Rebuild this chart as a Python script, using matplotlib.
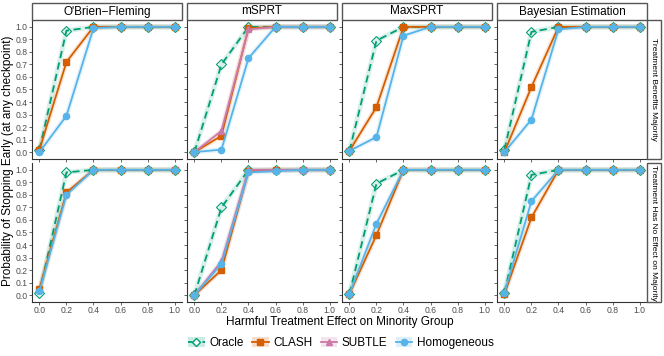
import numpy as np
import matplotlib
matplotlib.use('Agg')
import matplotlib.pyplot as plt
from matplotlib.lines import Line2D
from matplotlib.patches import Rectangle

plt.rcParams['font.family'] = ['Liberation Sans', 'DejaVu Sans']

effects = [0.0, 0.2, 0.4, 0.6, 0.8, 1.0]
methods = ["O'Brien\u2212Fleming", "mSPRT", "MaxSPRT", "Bayesian Estimation"]
scenarios = ["Treatment Benefits Majority", "Treatment Has No Effect on Majority"]
series_names = ["Oracle", "CLASH", "SUBTLE", "Homogeneous"]

# rows: one list per method (O'Brien-Fleming, mSPRT, MaxSPRT, Bayesian); None = not run
oracle_benefit = [[0.02, 0.97, 1.0, 1.0, 1.0, 1.0],
                  [0.00, 0.70, 1.0, 1.0, 1.0, 1.0],
                  [0.01, 0.89, 1.0, 1.0, 1.0, 1.0],
                  [0.02, 0.96, 1.0, 1.0, 1.0, 1.0]]
clash_benefit = [[0.02, 0.72, 1.0, 1.0, 1.0, 1.0],
                 [0.00, 0.13, 0.99, 1.0, 1.0, 1.0],
                 [0.01, 0.36, 1.0, 1.0, 1.0, 1.0],
                 [0.00, 0.52, 1.0, 1.0, 1.0, 1.0]]
subtle_benefit = [None,
                  [0.00, 0.17, 0.98, 1.0, 1.0, 1.0],
                  None,
                  None]
homog_benefit = [[0.00, 0.29, 0.99, 1.0, 1.0, 1.0],
                 [0.00, 0.02, 0.75, 1.0, 1.0, 1.0],
                 [0.01, 0.12, 0.93, 1.0, 1.0, 1.0],
                 [0.00, 0.26, 0.98, 1.0, 1.0, 1.0]]

oracle_none = [[0.02, 0.98, 1.0, 1.0, 1.0, 1.0],
               [0.00, 0.70, 1.0, 1.0, 1.0, 1.0],
               [0.01, 0.89, 1.0, 1.0, 1.0, 1.0],
               [0.02, 0.96, 1.0, 1.0, 1.0, 1.0]]
clash_none = [[0.05, 0.82, 1.0, 1.0, 1.0, 1.0],
              [0.00, 0.20, 0.99, 1.0, 1.0, 1.0],
              [0.01, 0.48, 1.0, 1.0, 1.0, 1.0],
              [0.01, 0.62, 1.0, 1.0, 1.0, 1.0]]
subtle_none = [None,
               [0.00, 0.27, 1.0, 1.0, 1.0, 1.0],
               None,
               None]
homog_none = [[0.03, 0.80, 1.0, 1.0, 1.0, 1.0],
              [0.00, 0.25, 0.98, 0.99, 1.0, 1.0],
              [0.01, 0.57, 1.0, 1.0, 1.0, 1.0],
              [0.02, 0.75, 1.0, 1.0, 1.0, 1.0]]

data = [
    [oracle_benefit, clash_benefit, subtle_benefit, homog_benefit],
    [oracle_none, clash_none, subtle_none, homog_none],
]

colors = {"Oracle": "#009E73", "CLASH": "#D55E00", "SUBTLE": "#CC79A7", "Homogeneous": "#56B4E9"}
markers = {"Oracle": "D", "CLASH": "s", "SUBTLE": "^", "Homogeneous": "o"}
styles = {"Oracle": (0, (4, 2.5)), "CLASH": "-", "SUBTLE": "-", "Homogeneous": "-"}

W, H = 664, 356
fig = plt.figure(figsize=(W / 100, H / 100), dpi=100)

col_left = [32, 187, 342, 497]
col_w = 150
row_top = [20, 163]
row_h = 139


def px(x, y, w, h):
    return [x / W, 1 - (y + h) / H, w / W, h / H]


for r in range(2):
    for c in range(4):
        ax = fig.add_axes(px(col_left[c], row_top[r], col_w, row_h))
        for k, name in enumerate(series_names):
            vals = data[r][k][c]
            if vals is None:
                continue
            col = colors[name]
            z = 2 + k
            # light band behind each line
            ax.plot(effects, vals, color=col, lw=3.5, alpha=0.15, solid_capstyle='round', zorder=1)
            if name == "Oracle":
                ax.plot(effects, vals, color=col, lw=1.3, ls=styles[name], marker=markers[name],
                        ms=5, mfc='none', mec=col, mew=0.8, zorder=z)
            else:
                ax.plot(effects, vals, color=col, lw=1.3, ls=styles[name], marker=markers[name],
                        ms=4.5, mfc=col, mec=col, zorder=z)
        ax.set_xlim(-0.055, 1.055)
        ax.set_ylim(-0.055, 1.055)
        ax.set_yticks(np.arange(0, 1.01, 0.1))
        ax.set_xticks(effects)
        if c == 0:
            ax.set_yticklabels(["%.1f" % v for v in np.arange(0, 1.01, 0.1)])
        else:
            ax.set_yticklabels([])
        if r == 1:
            ax.set_xticklabels(["%.1f" % v for v in effects])
        else:
            ax.set_xticklabels([])
        ax.tick_params(labelsize=6.2, colors='#4d4d4d', length=2, width=0.6, pad=1)
        for s in ['top', 'right']:
            ax.spines[s].set_visible(False)
        for s in ['left', 'bottom']:
            ax.spines[s].set_color('#333333')
            ax.spines[s].set_linewidth(0.8)
        if r == 0:
            fig.patches.append(Rectangle((col_left[c] / W, 1 - 20 / H), col_w / W, 17 / H,
                                         transform=fig.transFigure, fc='white', ec='#555555', lw=1.0))
            fig.text((col_left[c] + col_w / 2) / W, 1 - 11.5 / H, methods[c], ha='center', va='center',
                     fontsize=8.5)
        if c == 3:
            fig.patches.append(Rectangle(((col_left[c] + col_w) / W, 1 - (row_top[r] + row_h) / H),
                                         14 / W, row_h / H, transform=fig.transFigure,
                                         fc='white', ec='#555555', lw=1.0))
            fig.text((col_left[c] + col_w + 7) / W, 1 - (row_top[r] + row_h / 2) / H, scenarios[r],
                     rotation=-90, ha='center', va='center', fontsize=6)

fig.text(8 / W, 1 - 161 / H, "Probability of Stopping Early (at any checkpoint)", rotation=90,
         ha='center', va='center', fontsize=8.5)
fig.text(340 / W, 1 - 322 / H, "Harmful Treatment Effect on Minority Group", ha='center', va='center',
         fontsize=8.5)

handles = []
for name in series_names:
    col = colors[name]
    box = Rectangle((0, 0), 1, 1, fc=col, alpha=0.2, ec='none')
    if name == "Oracle":
        ln = Line2D([], [], color=col, lw=1.3, ls=(0, (2.5, 1.5)), marker='D', ms=4.5, mfc='white', mec=col)
    else:
        ln = Line2D([], [], color=col, lw=1.3, marker=markers[name], ms=4.5, mfc=col, mec=col)
    handles.append((box, ln))
fig.legend(handles, series_names, loc='center', bbox_to_anchor=(341 / W, 1 - 343 / H), ncol=4,
           frameon=False, fontsize=8.5, handlelength=1.4, handleheight=1.0, columnspacing=0.7,
           handletextpad=0.4)

fig.savefig('out.png', dpi=100)
